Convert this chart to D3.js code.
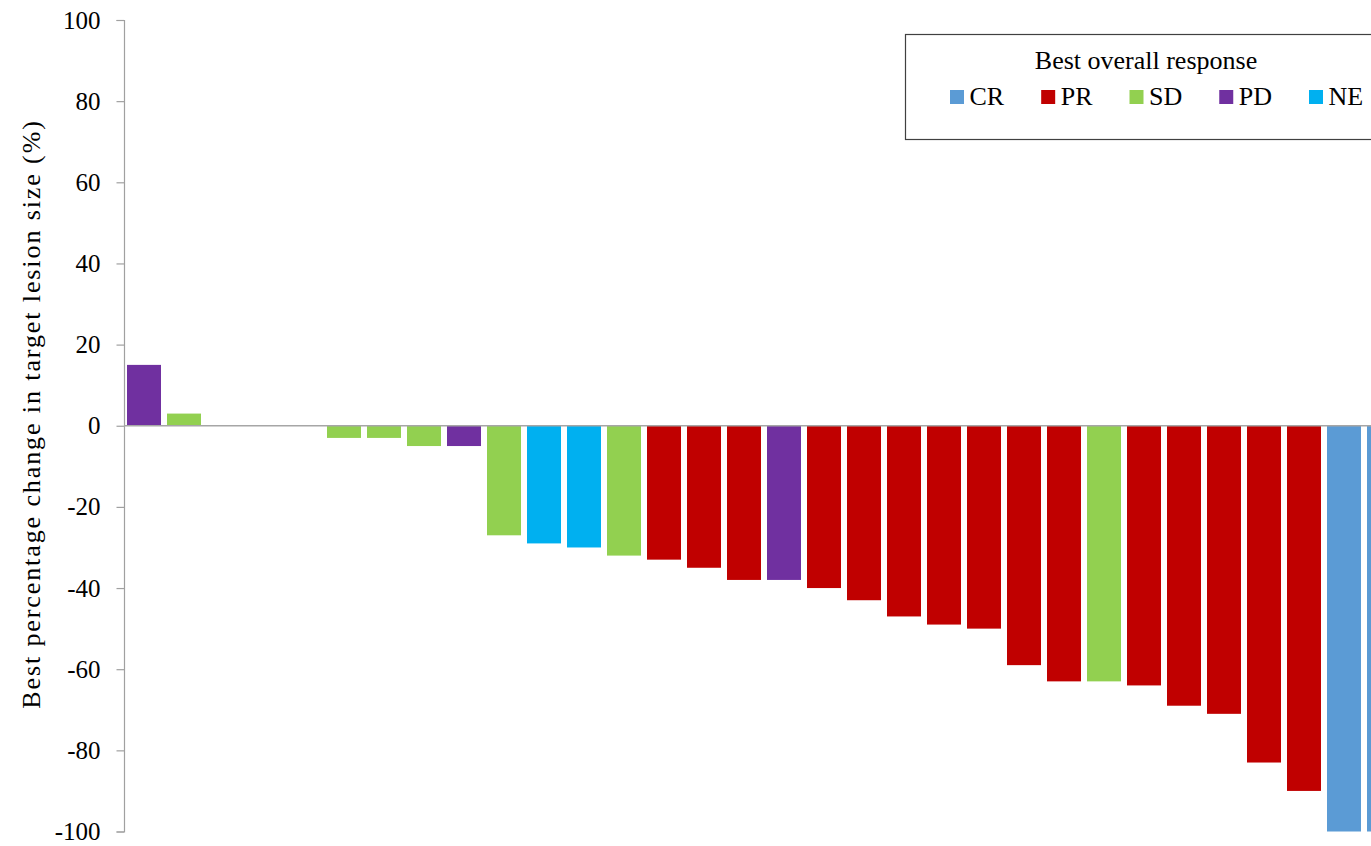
<!DOCTYPE html>
<html>
<head>
<meta charset="utf-8">
<script src="https://cdn.jsdelivr.net/npm/d3@7"></script>
<style>
  html, body { margin: 0; padding: 0; background: #fff; overflow: hidden; }
  svg { display: block; font-family: "Liberation Serif", "Times New Roman", serif; }
  svg text { font-family: "Liberation Serif", "Times New Roman", serif; }
</style>
</head>
<body>
<svg id="chart" width="1371" height="846"></svg>
<script>
// Best percentage change from baseline in target lesion size, one bar per patient
const patients = d3.range(1, 33).map(i => "P" + i);
const changes = [15, 3, 0, 0, 0, -3, -3, -5, -5, -27, -29, -30, -32, -33, -35, -38,
                 -38, -40, -43, -47, -49, -50, -59, -63, -63, -64, -69, -71, -83, -90, -100, -100];
const responses = ["PD", "SD", "SD", "SD", "SD", "SD", "SD", "SD", "PD", "SD", "NE", "NE", "SD", "PR", "PR", "PR",
                   "PD", "PR", "PR", "PR", "PR", "PR", "PR", "PR", "SD", "PR", "PR", "PR", "PR", "PR", "CR", "CR"];
const responseTypes = ["CR", "PR", "SD", "PD", "NE"];
const responseColors = ["#5B9BD5", "#C00000", "#92D050", "#7030A0", "#00B0F0"];
const yTicks = [-100, -80, -60, -40, -20, 0, 20, 40, 60, 80, 100];

const rows = patients.map((p, i) => ({ id: p, change: changes[i], response: responses[i] }));

const svg = d3.select("#chart");
const serif = "'Liberation Serif', 'Times New Roman', serif";
const axisX = 124;

const x = d3.scaleBand()
  .domain(patients)
  .range([axisX, axisX + 40 * patients.length])
  .paddingInner(0.15)
  .paddingOuter(0.075);

const y = d3.scaleLinear().domain([-100, 100]).range([831.5, 20]);

const color = d3.scaleOrdinal().domain(responseTypes).range(responseColors);

// y axis (plain hyphen for negative labels)
const yAxis = svg.append("g")
  .attr("transform", `translate(${axisX},0)`)
  .call(d3.axisLeft(y).tickValues(yTicks).tickSize(7.5).tickPadding(16).tickFormat(d => String(d)));
yAxis.attr("font-family", null);
yAxis.select(".domain").attr("stroke", "#A0A0A0").attr("stroke-width", 1.2);
yAxis.selectAll(".tick line").attr("stroke", "#A0A0A0").attr("stroke-width", 1.2);
yAxis.selectAll(".tick text")
  .attr("fill", "#000")
  .style("font-size", "25px")
  .style("font-family", serif);

// bars
svg.append("g").selectAll("rect")
  .data(rows)
  .join("rect")
  .attr("x", d => x(d.id))
  .attr("width", x.bandwidth())
  .attr("y", d => y(Math.max(0, d.change)))
  .attr("height", d => Math.abs(y(d.change) - y(0)))
  .attr("fill", d => color(d.response));

// zero reference line
svg.append("line")
  .attr("x1", axisX)
  .attr("x2", 1371)
  .attr("y1", y(0))
  .attr("y2", y(0))
  .attr("stroke", "#A6A6A6")
  .attr("stroke-width", 1.6);

// y axis title
svg.append("text")
  .attr("transform", "translate(40,414) rotate(-90)")
  .attr("text-anchor", "middle")
  .style("font-size", "26px")
  .style("font-family", serif)
  .style("letter-spacing", "1.9px")
  .attr("fill", "#000")
  .text("Best percentage change in target lesion size (%)");

// legend
const legend = svg.append("g");
legend.append("rect")
  .attr("x", 905.5)
  .attr("y", 34.5)
  .attr("width", 520)
  .attr("height", 105)
  .attr("fill", "#fff")
  .attr("stroke", "#404040")
  .attr("stroke-width", 1.2);

legend.append("text")
  .attr("x", 1146)
  .attr("y", 69)
  .attr("text-anchor", "middle")
  .style("font-size", "26px")
  .style("font-family", serif)
  .attr("fill", "#000")
  .text("Best overall response");

let cursor = 950;
responseTypes.forEach(r => {
  const item = legend.append("g");
  item.append("rect")
    .attr("x", cursor)
    .attr("y", 90)
    .attr("width", 14)
    .attr("height", 14)
    .attr("fill", color(r));
  const t = item.append("text")
    .attr("x", cursor + 19.5)
    .attr("y", 105)
    .style("font-size", "26px")
    .style("font-family", serif)
    .attr("fill", "#000")
    .text(r);
  cursor += 19.5 + t.node().getComputedTextLength() + 37;
});
</script>
</body>
</html>
